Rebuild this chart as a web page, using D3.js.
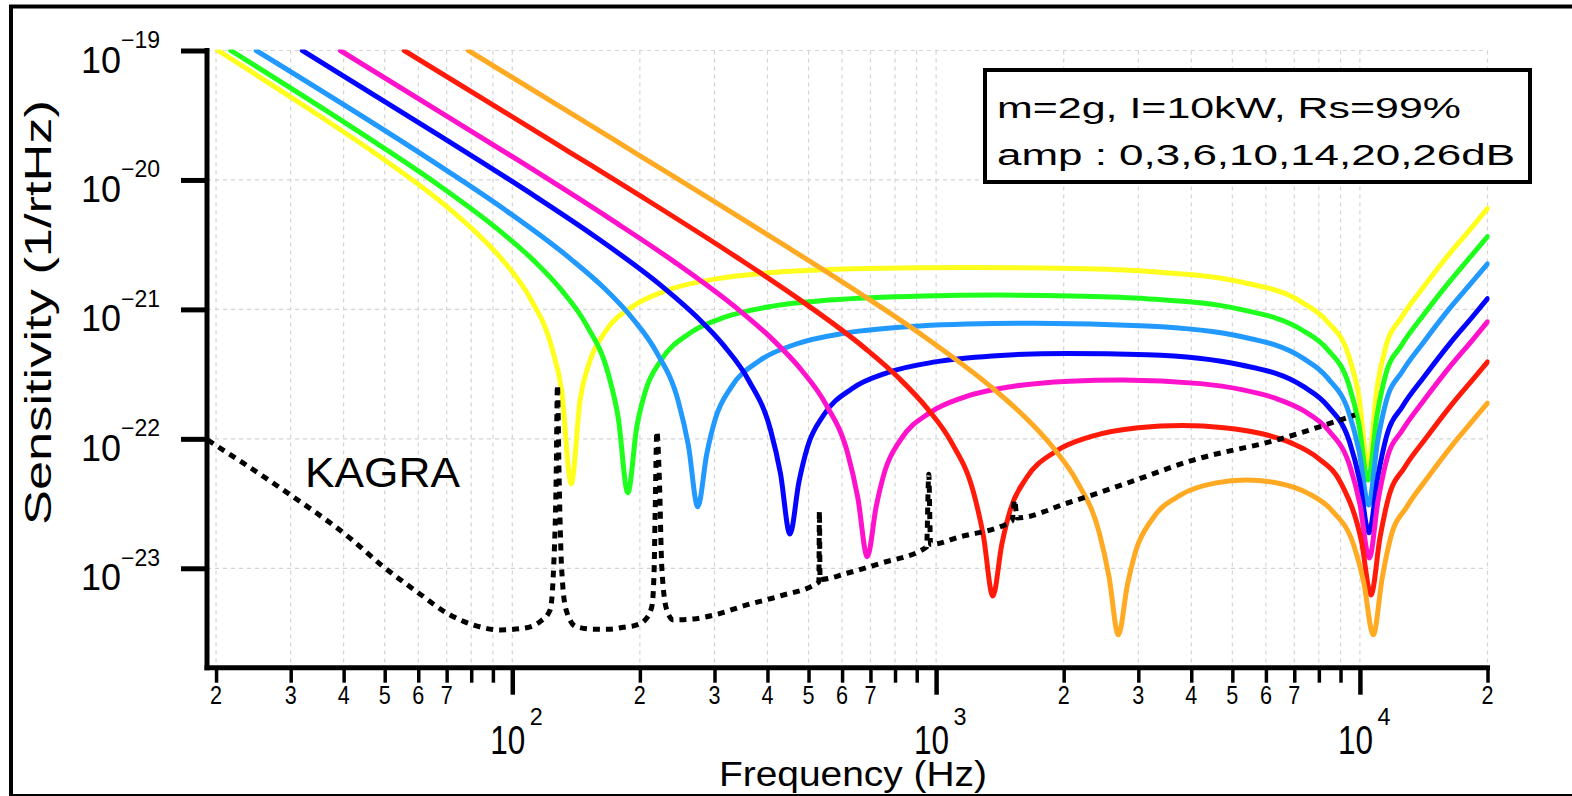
<!DOCTYPE html>
<html>
<head>
<meta charset="utf-8">
<script src="https://cdn.jsdelivr.net/npm/d3@7"></script>
<style>
  body { margin: 0; background: #fff; }
  svg { display: block; }
  text { font-family: "Liberation Sans", Arial, sans-serif; fill: #000; }
</style>
</head>
<body>
<svg id="chart" width="1572" height="796"></svg>
<script>
// ---- sensitivity curves: [frequency (Hz), sensitivity (1/rtHz)] ----
const amp0dB = [[20.2,1e-19],[34.4,3.26e-20],[48.2,1.55e-20],[68.9,6.51e-21],[82.6,3.86e-21],[96.4,2.26e-21],[110.2,1.22e-21],[123.9,5.09e-22],[130.8,2.34e-22],[137.7,4.48e-23],[144.6,2.02e-22],[151.5,3.77e-22],[165.2,6.63e-22],[192.8,1.06e-21],[234.1,1.42e-21],[302.9,1.72e-21],[413.1,1.93e-21],[688.5,2.07e-21],[1200,2.11e-21],[2090,2.07e-21],[3135,1.97e-21],[5225,1.63e-21],[7315,1.13e-21],[8360,8.1e-22],[9405,4.4e-22],[9928,2.2e-22],[10450,6.29e-23],[10973,2.49e-22],[11495,5.10e-22],[12540,8.68e-22],[14108,1.48e-21],[16198,2.65e-21],[18288,4.23e-21],[20000,6.02e-21]];
const amp3dB = [[21.66,1e-19],[46.8,2.01e-20],[65.6,9.58e-21],[93.7,4.01e-21],[112.4,2.38e-21],[131.1,1.39e-21],[149.8,7.52e-22],[168.6,3.14e-22],[177.9,1.44e-22],[187.3,3.84e-23],[196.7,1.24e-22],[206,2.32e-22],[224.8,4.08e-22],[262.2,6.55e-22],[318.4,8.74e-22],[412,1.06e-21],[561.9,1.18e-21],[936.5,1.27e-21],[1400,1.29e-21],[2090,1.27e-21],[3135,1.21e-21],[5225,1.00e-21],[7315,6.9e-22],[8360,4.95e-22],[9405,2.65e-22],[9928,1.33e-22],[10450,4.81e-23],[10973,1.52e-22],[11495,3.11e-22],[12540,5.29e-22],[14108,9.00e-22],[16198,1.61e-21],[18288,2.58e-21],[20000,3.65e-21]];
const amp6dB = [[24.88,1e-19],[68.5,1.24e-20],[95.9,5.91e-21],[137,2.47e-21],[164.4,1.47e-21],[191.8,8.58e-22],[219.2,4.64e-22],[246.6,1.93e-22],[260.3,8.90e-23],[274,2.99e-23],[287.7,7.67e-23],[301.4,1.43e-22],[328.8,2.52e-22],[383.6,4.03e-22],[465.8,5.38e-22],[602.8,6.52e-22],[822,7.28e-22],[1370,7.78e-22],[1700,7.82e-22],[3144,7.44e-22],[5240,6.17e-22],[7336,4.20e-22],[8384,2.96e-22],[9432,1.57e-22],[9956,8.03e-23],[10480,3.08e-23],[11004,9.48e-23],[11528,1.94e-22],[12576,3.30e-22],[14148,5.61e-22],[16244,1.01e-21],[18340,1.61e-21],[20000,2.25e-21]];
const amp10dB = [[31.96,1e-19],[67.8,2.17e-20],[113,7.50e-21],[158.2,3.58e-21],[226,1.50e-21],[271.2,8.88e-22],[316.4,5.20e-22],[361.6,2.81e-22],[406.8,1.17e-22],[429.4,5.39e-23],[452,1.84e-23],[474.6,4.64e-23],[497.2,8.66e-23],[542.4,1.52e-22],[632.8,2.44e-22],[768.4,3.25e-22],[994.4,3.93e-22],[1356,4.37e-22],[2034,4.57e-22],[3150,4.46e-22],[5250,3.72e-22],[7350,2.54e-22],[8400,1.79e-22],[9450,9.48e-23],[9975,4.86e-23],[10500,1.88e-23],[11025,5.11e-23],[11550,1.04e-22],[12600,1.78e-22],[14175,3.02e-22],[16275,5.42e-22],[18375,8.66e-22],[20000,1.21e-21]];
const amp14dB = [[39.3,1e-19],[68.8,3.23e-20],[103.2,1.42e-20],[172,4.89e-21],[240.8,2.34e-21],[344,9.78e-22],[412.8,5.79e-22],[481.6,3.39e-22],[550.4,1.83e-22],[619.2,7.63e-23],[653.6,3.51e-23],[688,1.23e-23],[722.4,3.02e-23],[756.8,5.63e-23],[825.6,9.91e-23],[963.2,1.58e-22],[1170,2.11e-22],[1514,2.54e-22],[2064,2.79e-22],[2752,2.85e-22],[4208,2.67e-22],[5260,2.40e-22],[6312,2.06e-22],[7364,1.65e-22],[8416,1.17e-22],[9468,6.17e-23],[9994,3.17e-23],[10520,1.20e-23],[11046,3.40e-23],[11572,6.95e-23],[12624,1.18e-22],[14202,2.01e-22],[16306,3.61e-22],[18410,5.77e-22],[20000,8.02e-22]];
const amp20dB = [[55.6,1e-19],[95.3,3.39e-20],[136.1,1.65e-20],[204.2,7.26e-21],[340.3,2.50e-21],[476.4,1.19e-21],[680.5,4.99e-22],[816.6,2.95e-22],[952.7,1.72e-22],[1088.8,9.30e-23],[1224.9,3.87e-23],[1293,1.78e-23],[1361,6.11e-24],[1429,1.53e-23],[1497,2.84e-23],[1633,4.98e-23],[1905,7.92e-23],[2314,1.04e-22],[2994,1.22e-22],[3811,1.27e-22],[4779,1.22e-22],[5841,1.10e-22],[6903,9.27e-23],[7965,7.10e-23],[9027,4.53e-23],[10089,1.60e-23],[10620,6.22e-24],[11151,1.72e-23],[11682,3.52e-23],[12744,6.01e-23],[14337,1.02e-22],[16461,1.84e-22],[18585,2.95e-22],[20000,3.93e-22]];
const amp26dB = [[78.76,1e-19],[134.6,3.42e-20],[201.9,1.51e-20],[296.1,6.98e-21],[430.7,3.25e-21],[673,1.28e-21],[942.2,6.09e-22],[1346,2.53e-22],[1615,1.49e-22],[1884,8.64e-23],[2154,4.62e-23],[2423,1.91e-23],[2557,8.72e-24],[2692,3.06e-24],[2827,7.41e-24],[2961,1.37e-23],[3230,2.38e-23],[3769,3.67e-23],[4576,4.57e-23],[5384,4.81e-23],[6461,4.52e-23],[7525,3.81e-23],[8600,2.78e-23],[9675,1.50e-23],[10213,7.77e-24],[10750,3.06e-24],[11288,8.45e-24],[11825,1.74e-23],[12900,2.98e-23],[14513,5.11e-23],[16663,9.26e-23],[18813,1.49e-22],[20000,1.89e-22]];
const kagra = [[19.1,9.8e-23],[28.8,4.03e-23],[41.4,1.71e-23],[49.6,1.03e-23],[59.5,6.60e-24],[71.3,4.36e-24],[80.9,3.65e-24],[93.6,3.34e-24],[106.2,3.44e-24],[116.3,3.87e-24],[122.8,4.76e-24],[125.2,1.02e-23],[126.9,4.81e-23],[127.8,2.61e-22],[129.0,4.81e-23],[130.7,1.02e-23],[134.0,4.76e-24],[141.4,3.54e-24],[156.8,3.38e-24],[170.1,3.38e-24],[182.9,3.50e-24],[196.7,3.65e-24],[205.8,3.99e-24],[213.4,5.05e-24],[216.0,9.15e-24],[217.3,2.66e-23],[219.3,1.14e-22],[222.4,4.81e-23],[225.3,1.02e-23],[231.5,4.76e-24],[240.0,3.99e-24],[267.5,4.06e-24],[298.2,4.34e-24],[357.6,5.21e-24],[428.4,6.11e-24],[528.9,7.84e-24],[530.4,2.77e-23],[532.4,8.19e-24],[615.5,9.15e-24],[737.6,1.09e-23],[949.5,1.46e-23],[961.0,5.32e-23],[970.4,1.53e-23],[1139,1.75e-23],[1511,2.32e-23],[1531.5,3.37e-23],[1552.5,2.45e-23],[2034,3.18e-23],[2818,4.54e-23],[4046,6.86e-23],[6365,9.80e-23],[9741,1.53e-22]];

const ampSeries = [amp0dB, amp3dB, amp6dB, amp10dB, amp14dB, amp20dB, amp26dB];
const ampNames = ["0dB", "3dB", "6dB", "10dB", "14dB", "20dB", "26dB"];
const ampColors = ["#ffff1e", "#1eff1e", "#2299ff", "#0505ff", "#ff12cc", "#ff1a0a", "#ffaa22"];

// ---- axis ticks ----
const yTicks = [1e-19, 1e-20, 1e-21, 1e-22, 1e-23];
const yTickExponents = ["\u221219", "\u221220", "\u221221", "\u221222", "\u221223"];
const xMajorTicks = [100, 1000, 10000];
const xMajorExponents = ["2", "3", "4"];
const xMinorTicks = [20,30,40,50,60,70,80,90,200,300,400,500,600,700,800,900,2000,3000,4000,5000,6000,7000,8000,9000,20000];
const xMinorLabelled = [20,30,40,50,60,70,200,300,400,500,600,700,2000,3000,4000,5000,6000,7000,20000];

const legendLines = ["m=2g, I=10kW, Rs=99%", "amp : 0,3,6,10,14,20,26dB"];

// ---- layout ----
const svg = d3.select("#chart");
const x = d3.scaleLog().domain([19.04, 20000]).range([207, 1487.5]);
const y = d3.scaleLog().domain([1.706e-24, 1e-19]).range([667.7, 50.5]);
const [xL, xR] = x.range();
const [yB, yT] = y.range();

// outer frame
svg.append("rect")
  .attr("x", 11).attr("y", 6.5).attr("width", 1600).attr("height", 789.5)
  .attr("fill", "none").attr("stroke", "#000").attr("stroke-width", 4);

// grid
const grid = svg.append("g").attr("stroke", "#d4d4d4").attr("stroke-width", 1.2)
  .attr("stroke-dasharray", "4,4").attr("fill", "none");
grid.selectAll("line.gx").data(xMinorTicks.concat(xMajorTicks)).join("line")
  .attr("class", "gx")
  .attr("x1", d => x(d)).attr("x2", d => x(d)).attr("y1", yT).attr("y2", yB);
grid.selectAll("line.gy").data(yTicks).join("line")
  .attr("class", "gy")
  .attr("x1", xL).attr("x2", xR).attr("y1", d => y(d)).attr("y2", d => y(d));

// curves
svg.append("clipPath").attr("id", "plotClip").append("rect")
  .attr("x", xL).attr("y", yT - 1).attr("width", xR - xL + 2).attr("height", yB - yT + 1);

const line = d3.line()
  .x(d => x(d[0])).y(d => y(d[1]))
  .curve(d3.curveMonotoneX);

const plot = svg.append("g").attr("clip-path", "url(#plotClip)");
plot.selectAll("path.amp").data(ampSeries).join("path")
  .attr("class", "amp")
  .attr("d", line)
  .attr("fill", "none")
  .attr("stroke", (d, i) => ampColors[i])
  .attr("stroke-width", 5)
  .attr("stroke-linejoin", "round")
  .attr("stroke-linecap", "round")
  .append("title").text((d, i) => ampNames[i]);

plot.append("path")
  .datum(kagra)
  .attr("d", line)
  .attr("fill", "none")
  .attr("stroke", "#000")
  .attr("stroke-width", 5)
  .attr("stroke-dasharray", "7,6");

// axes
const axisG = svg.append("g");
const xMinorAxis = d3.axisBottom(x).tickValues(xMinorTicks).tickSize(15).tickSizeOuter(0).tickFormat("");
const xMajorAxis = d3.axisBottom(x).tickValues(xMajorTicks).tickSize(27).tickSizeOuter(0).tickFormat("");
const yAxis = d3.axisLeft(y).tickValues(yTicks).tickSize(26).tickSizeOuter(0).tickFormat("");

const gxMinor = axisG.append("g").attr("transform", `translate(0,${yB})`).call(xMinorAxis);
const gxMajor = axisG.append("g").attr("transform", `translate(0,${yB})`).call(xMajorAxis);
const gy = axisG.append("g").attr("transform", `translate(${xL},0)`).call(yAxis);
axisG.selectAll(".domain").remove();
gxMinor.selectAll(".tick line").attr("stroke", "#000").attr("stroke-width", 3.5);
gxMajor.selectAll(".tick line").attr("stroke", "#000").attr("stroke-width", 4.5);
gy.selectAll(".tick line").attr("stroke", "#000").attr("stroke-width", 5);

axisG.append("line").attr("x1", xL).attr("x2", xR).attr("y1", yB).attr("y2", yB)
  .attr("stroke", "#000").attr("stroke-width", 5).attr("stroke-linecap", "square");
axisG.append("line").attr("x1", xL).attr("x2", xL).attr("y1", yT).attr("y2", yB)
  .attr("stroke", "#000").attr("stroke-width", 5).attr("stroke-linecap", "square");

// y tick labels: 10 with superscript exponent
const yl = svg.append("g");
yTicks.forEach((v, i) => {
  const yy = y(v);
  const t = yl.append("text").attr("x", 81).attr("y", yy + 22);
  t.append("tspan").attr("font-size", 36).text("10");
  t.append("tspan").attr("x", 121).attr("y", yy - 2.5).attr("font-size", 23).text(yTickExponents[i]);
});

// x tick labels
const xlab = svg.append("g");
xMinorLabelled.forEach(v => {
  const lead = Math.round(v / Math.pow(10, Math.floor(Math.log10(v))));
  xlab.append("text").attr("x", x(v)).attr("y", 704).attr("text-anchor", "middle")
    .attr("font-size", 25).attr("textLength", 12).attr("lengthAdjust", "spacingAndGlyphs")
    .text(String(lead));
});
xMajorTicks.forEach((v, i) => {
  const xx = x(v);
  const t = xlab.append("text").attr("x", xx - 22).attr("y", 754);
  t.append("tspan").attr("font-size", 40).attr("textLength", 35).attr("lengthAdjust", "spacingAndGlyphs").text("10");
  t.append("tspan").attr("x", xx + 17.5).attr("y", 725).attr("font-size", 24)
    .attr("textLength", 13).attr("lengthAdjust", "spacingAndGlyphs").text(xMajorExponents[i]);
});

// axis titles
svg.append("text").attr("x", 853).attr("y", 786).attr("text-anchor", "middle")
  .attr("font-size", 35).attr("textLength", 268).attr("lengthAdjust", "spacingAndGlyphs")
  .text("Frequency (Hz)");
svg.append("text").attr("transform", "translate(51,312.5) rotate(-90)")
  .attr("text-anchor", "middle").attr("font-size", 36)
  .attr("textLength", 425).attr("lengthAdjust", "spacingAndGlyphs")
  .text("Sensitivity (1/rtHz)");

// curve label
svg.append("text").attr("x", 305).attr("y", 486.5).attr("font-size", 43)
  .attr("textLength", 155).attr("lengthAdjust", "spacingAndGlyphs").text("KAGRA");

// parameter box
const lg = svg.append("g");
lg.append("rect").attr("x", 985).attr("y", 70).attr("width", 545).attr("height", 112)
  .attr("fill", "#fff").attr("stroke", "#000").attr("stroke-width", 4);
lg.append("text").attr("x", 997).attr("y", 118.3).attr("font-size", 29)
  .attr("textLength", 464).attr("lengthAdjust", "spacingAndGlyphs").text(legendLines[0]);
lg.append("text").attr("x", 997).attr("y", 165).attr("font-size", 29)
  .attr("textLength", 518).attr("lengthAdjust", "spacingAndGlyphs").text(legendLines[1]);
</script>
</body>
</html>
